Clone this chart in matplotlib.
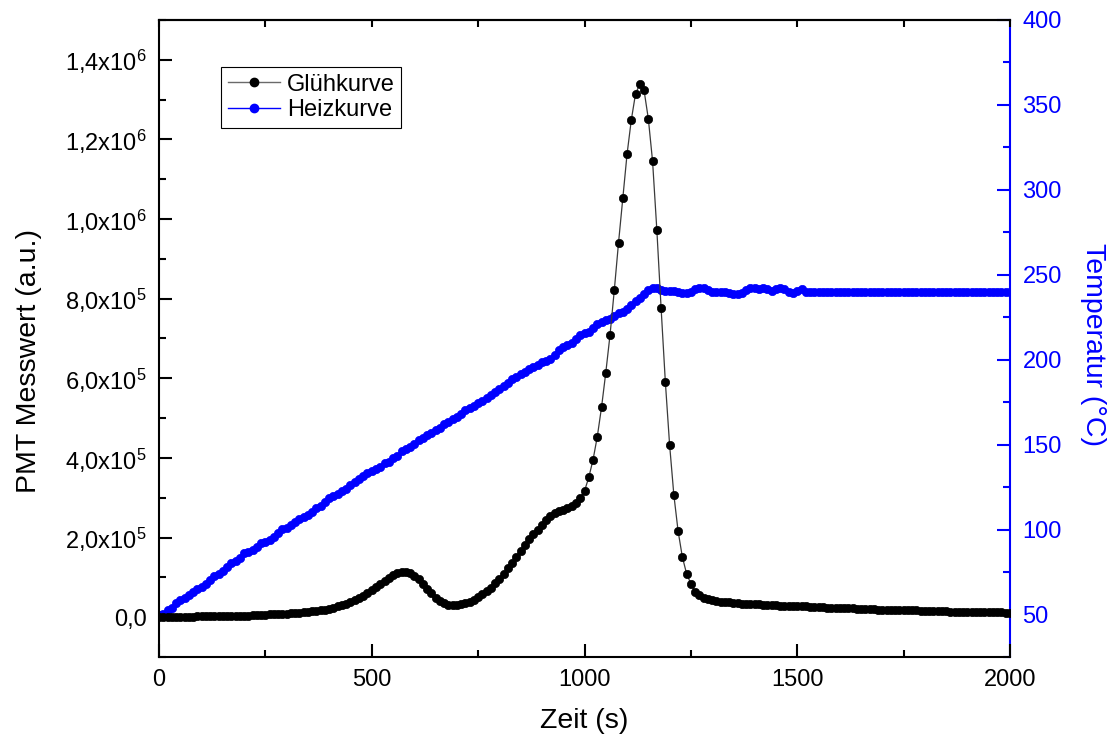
import numpy as np
import matplotlib
matplotlib.use("Agg")
import matplotlib.pyplot as plt
from matplotlib.ticker import MultipleLocator, FixedLocator, FixedFormatter
from matplotlib.lines import Line2D

plt.rcParams['font.family'] = ['Liberation Sans', 'DejaVu Sans']
plt.rcParams['mathtext.fontset'] = 'custom'
plt.rcParams['mathtext.rm'] = 'Liberation Sans'
plt.rcParams['mathtext.it'] = 'Liberation Sans:italic'
plt.rcParams['mathtext.default'] = 'regular'

# ---------------- data ----------------
zeit = np.arange(0, 2001, 10)  # s

# PMT Messwert in units of 1e5 (a.u.)
gluehkurve_1e5 = [
    0.00, 0.00, 0.00, 0.01, 0.01, 0.01, 0.01, 0.01, 0.01, 0.02,   # 0-90
    0.02, 0.02, 0.02, 0.02, 0.02, 0.03, 0.03, 0.03, 0.03, 0.04,   # 100-190
    0.04, 0.04, 0.05, 0.05, 0.06, 0.06, 0.07, 0.07, 0.08, 0.09,   # 200-290
    0.09, 0.10, 0.11, 0.11, 0.12, 0.14, 0.15, 0.16, 0.17, 0.19,   # 300-390
    0.21, 0.23, 0.27, 0.30, 0.34, 0.38, 0.43, 0.48, 0.54, 0.61,   # 400-490
    0.68, 0.76, 0.83, 0.91, 0.98, 1.05, 1.10, 1.13, 1.13, 1.10,   # 500-590
    1.04, 0.96, 0.84, 0.72, 0.60, 0.49, 0.40, 0.35, 0.31, 0.30,   # 600-690
    0.30, 0.32, 0.35, 0.39, 0.44, 0.50, 0.57, 0.65, 0.74, 0.85,   # 700-790
    0.96, 1.09, 1.23, 1.37, 1.52, 1.67, 1.82, 1.96, 2.08, 2.20,   # 800-890
    2.32, 2.44, 2.54, 2.61, 2.66, 2.70, 2.74, 2.79, 2.88, 3.00,   # 900-990
    3.17, 3.51, 3.95, 4.53, 5.27, 6.14, 7.09, 8.21, 9.41, 10.52,  # 1000-1090
    11.63, 12.49, 13.15, 13.39, 13.23, 12.52, 11.45, 9.73, 7.77, 5.91,  # 1100-1190
    4.33, 3.07, 2.16, 1.51, 1.09, 0.84, 0.64, 0.55, 0.48, 0.45,   # 1200-1290
    0.42, 0.40, 0.39, 0.38, 0.37, 0.36, 0.35, 0.34, 0.33, 0.33,   # 1300-1390
    0.32, 0.32, 0.31, 0.31, 0.30, 0.30, 0.29, 0.29, 0.28, 0.28,   # 1400-1490
    0.28, 0.27, 0.27, 0.26, 0.26, 0.25, 0.25, 0.24, 0.24, 0.24,   # 1500-1590
    0.23, 0.23, 0.22, 0.22, 0.21, 0.21, 0.21, 0.20, 0.20, 0.19,   # 1600-1690
    0.19, 0.19, 0.18, 0.18, 0.18, 0.18, 0.17, 0.17, 0.17, 0.16,   # 1700-1790
    0.16, 0.16, 0.15, 0.15, 0.15, 0.15, 0.14, 0.14, 0.14, 0.14,   # 1800-1890
    0.13, 0.13, 0.13, 0.13, 0.12, 0.12, 0.12, 0.12, 0.12, 0.11,   # 1900-1990
    0.11,                                                          # 2000
]

# Temperatur in degC
heizkurve = [
    49.5, 50.5, 52.5, 54.0, 56.5, 58.5, 60.0, 61.5, 63.5, 65.0,        # 0-90
    66.5, 68.0, 70.5, 72.5, 74.0, 75.5, 78.0, 80.5, 81.5, 83.5,        # 100-190
    86.0, 87.0, 88.0, 90.0, 92.0, 92.5, 94.0, 95.5, 98.0, 100.5,       # 200-290
    101.0, 103.0, 104.5, 106.0, 107.5, 108.5, 110.5, 112.5, 114.0, 116.5,  # 300-390
    118.5, 119.5, 121.0, 122.5, 124.0, 126.5, 128.0, 129.5, 131.5, 133.5,  # 400-490
    134.5, 135.5, 137.0, 139.0, 140.0, 142.0, 143.5, 146.0, 147.5, 148.5,  # 500-590
    150.5, 152.5, 154.0, 155.5, 157.0, 158.5, 160.0, 162.0, 163.5, 165.0,  # 600-690
    166.5, 168.0, 170.5, 171.5, 172.5, 174.5, 176.0, 177.5, 179.0, 181.0,  # 700-790
    183.0, 184.5, 186.5, 188.5, 190.0, 191.5, 193.0, 194.5, 195.5, 197.0,  # 800-890
    198.5, 199.5, 200.5, 203.0, 206.0, 207.5, 208.5, 210.0, 212.0, 214.5,  # 900-990
    216.0, 216.5, 218.5, 221.0, 222.5, 223.5, 224.0, 226.0, 227.5, 228.0,  # 1000-1090
    230.0, 232.5, 234.5, 236.5, 238.5, 241.0, 242.5, 242.5, 241.0, 240.5,  # 1100-1190
    240.5, 240.5, 240.0, 239.0, 239.0, 240.0, 241.5, 242.5, 242.5, 241.0,  # 1200-1290
    240.0, 240.0, 240.0, 240.0, 239.0, 238.5, 238.5, 239.5, 241.0, 242.0,  # 1300-1390
    242.5, 241.5, 242.0, 241.5, 240.5, 241.5, 242.5, 241.5, 240.0, 239.5,  # 1400-1490
    240.5, 241.5, 240.0, 240.0, 240.0, 240.0, 240.0, 240.0, 240.0, 240.0,  # 1500-1590
    240.0, 240.0, 240.0, 240.0, 240.0, 240.0, 240.0, 240.0, 240.0, 240.0,  # 1600-1690
    240.0, 240.0, 240.0, 240.0, 240.0, 240.0, 240.0, 240.0, 240.0, 240.0,  # 1700-1790
    240.0, 240.0, 240.0, 240.0, 240.0, 240.0, 240.0, 240.0, 240.0, 240.0,  # 1800-1890
    240.0, 240.0, 240.0, 240.0, 240.0, 240.0, 240.0, 240.0, 240.0, 240.0,  # 1900-1990
    240.0,                                                               # 2000
]

left_ticks = [0, 2e5, 4e5, 6e5, 8e5, 1.0e6, 1.2e6, 1.4e6]
left_labels = ['0,0', '2,0x10$^{5}$', '4,0x10$^{5}$', '6,0x10$^{5}$', '8,0x10$^{5}$',
               '1,0x10$^{6}$', '1,2x10$^{6}$', '1,4x10$^{6}$']
right_ticks = [50, 100, 150, 200, 250, 300, 350, 400]
x_ticks = [0, 500, 1000, 1500, 2000]

# ---------------- figure ----------------
fig = plt.figure(figsize=(11.19, 7.51), dpi=100)
ax = fig.add_axes([159/1119, 1 - 657/751, (1010-159)/1119, (657-20)/751])
ax2 = ax.twinx()

blue = '#0000FF'
fs_tick = 17
fs_lab = 20.5
ms = 6.0

gl = np.array(gluehkurve_1e5) * 1e5
ax.plot(zeit, gl, color='#3a3a3a', lw=0.9, marker='o', ms=ms,
        mfc='black', mec='black', mew=0.5, zorder=3)
ax2.plot(zeit, heizkurve, color=blue, lw=1.0, marker='o', ms=ms,
         mfc=blue, mec=blue, mew=0.5, zorder=2)

ax.set_zorder(ax2.get_zorder() + 1)
ax.patch.set_visible(False)

ax.set_xlim(0, 2000)
ax.set_ylim(-1e5, 1.5e6)
ax2.set_ylim(25, 400)

ax.xaxis.set_major_locator(FixedLocator(x_ticks))
ax.xaxis.set_minor_locator(MultipleLocator(250))
ax.yaxis.set_major_locator(FixedLocator(left_ticks))
ax.yaxis.set_major_formatter(FixedFormatter(left_labels))
ax.yaxis.set_minor_locator(MultipleLocator(1e5))
ax2.yaxis.set_major_locator(FixedLocator(right_ticks))
ax2.yaxis.set_minor_locator(MultipleLocator(25))

for a in (ax, ax2):
    for s in a.spines.values():
        s.set_linewidth(1.5)
ax.spines['right'].set_visible(False)
ax2.spines['left'].set_visible(False)
ax2.spines['top'].set_visible(False)
ax2.spines['bottom'].set_visible(False)
ax2.spines['right'].set_color(blue)

ax.tick_params(axis='both', which='major', direction='in', length=9.5, width=1.5,
               labelsize=fs_tick, pad=9, top=False, right=False)
ax.tick_params(axis='both', which='minor', direction='in', length=5, width=1.5,
               top=False, right=False)
ax2.tick_params(axis='y', which='major', direction='in', length=9.5, width=1.5,
                labelsize=fs_tick, pad=9, colors=blue)
ax2.tick_params(axis='y', which='minor', direction='in', length=5, width=1.5, colors=blue)

# top ticks (short, every 250)
sec = ax.secondary_xaxis('top')
sec.xaxis.set_major_locator(MultipleLocator(250))
sec.tick_params(direction='in', length=5, width=1.5, labeltop=False)
sec.spines['top'].set_linewidth(1.5)

ax.set_xlabel('Zeit (s)', fontsize=fs_lab)
ax.set_ylabel('PMT Messwert (a.u.)', fontsize=fs_lab)
ax2.set_ylabel('Temperatur (°C)', fontsize=fs_lab, color=blue, rotation=270)
ax.xaxis.set_label_coords(0.5, -0.08)
ax.yaxis.set_label_coords(-0.137, 0.465)
ax2.yaxis.set_label_coords(1.113, 0.49)

handles = [
    Line2D([], [], color='#6a6a6a', lw=1.0, marker='o', ms=ms, mfc='black', mec='black'),
    Line2D([], [], color=blue, lw=1.0, marker='o', ms=ms, mfc=blue, mec=blue),
]
leg = ax.legend(handles, ['Glühkurve', 'Heizkurve'], loc='upper left',
                bbox_to_anchor=(0.073, 0.926), fontsize=17, frameon=True,
                fancybox=False, edgecolor='black', framealpha=1,
                borderpad=0.28, handlelength=2.2, handletextpad=0.3,
                labelspacing=0.15, borderaxespad=0)
leg.get_frame().set_linewidth(0.8)

fig.savefig('out.png', dpi=100)
